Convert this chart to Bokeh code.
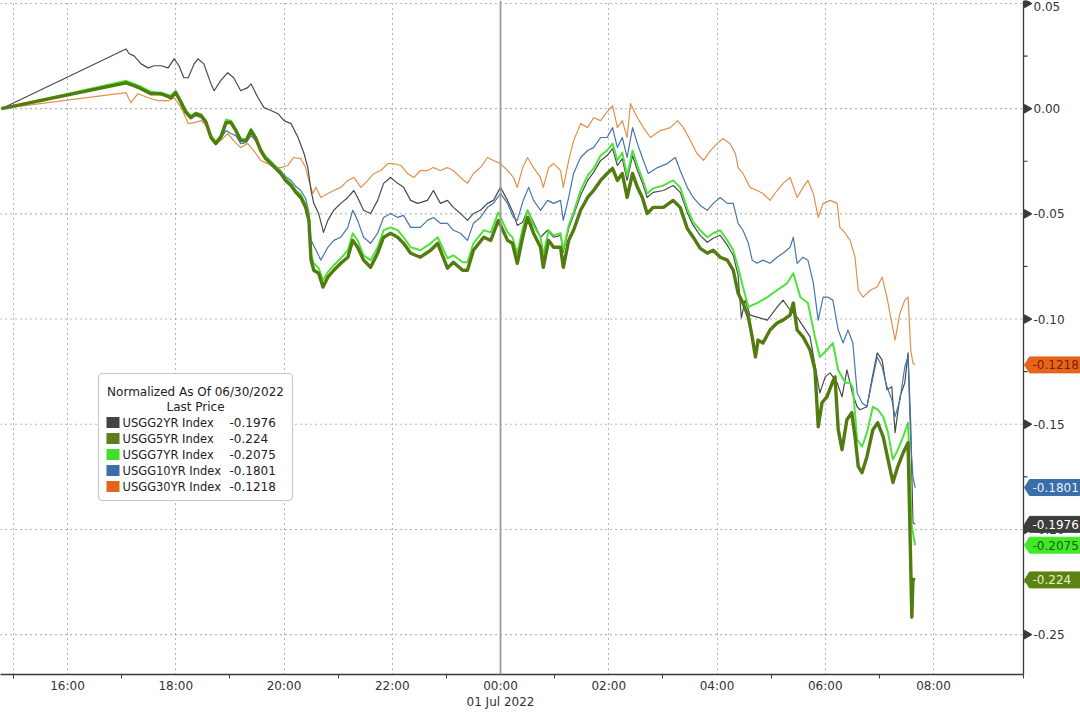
import math
from bokeh.plotting import figure
from bokeh.models import FixedTicker, Span, Label, BoxAnnotation, Range1d
from bokeh.core.properties import value
from bokeh.embed import file_html
from bokeh.resources import INLINE

# ---------------- data (hours since 2022-06-30 00:00, normalized yield change) ----------------
S2 = [(14.78, 0.0), (17.08, 0.0284), (17.14, 0.0261), (17.23, 0.0251), (17.36, 0.0213), (17.49, 0.0194),
      (17.60, 0.0204), (17.73, 0.0204), (17.86, 0.0194), (17.97, 0.0237), (18.06, 0.0204), (18.15, 0.0147),
      (18.23, 0.0147), (18.34, 0.0213), (18.41, 0.0237), (18.52, 0.0213), (18.65, 0.0118), (18.71, 0.0085),
      (18.83, 0.0133), (18.96, 0.0171), (19.07, 0.0147), (19.20, 0.0085), (19.33, 0.0100), (19.39, 0.0118),
      (19.52, 0.0052), (19.63, 0.0005), (19.76, -0.0009), (19.89, -0.0024), (20.00, -0.0057), (20.13, -0.0071),
      (20.26, -0.0137), (20.37, -0.0213), (20.44, -0.0280), (20.50, -0.0389), (20.55, -0.0450), (20.64, -0.0498),
      (20.73, -0.0588), (20.81, -0.0531), (20.92, -0.0483), (21.05, -0.0450), (21.18, -0.0422), (21.29, -0.0389),
      (21.36, -0.0422), (21.47, -0.0483), (21.60, -0.0498), (21.73, -0.0436), (21.84, -0.0355), (21.97, -0.0327),
      (22.10, -0.0355), (22.21, -0.0374), (22.34, -0.0436), (22.47, -0.0450), (22.65, -0.0436), (22.76, -0.0389),
      (22.89, -0.0450), (23.02, -0.0436), (23.13, -0.0469), (23.26, -0.0498), (23.39, -0.0531), (23.50, -0.0498),
      (23.63, -0.0483), (23.76, -0.0450), (23.87, -0.0436), (24.00, -0.0374), (24.13, -0.0436), (24.24, -0.0498),
      (24.31, -0.0555), (24.41, -0.0540), (24.50, -0.0483), (24.61, -0.0540), (24.74, -0.0611), (24.87, -0.0578),
      (24.98, -0.0611), (25.11, -0.0602), (25.16, -0.0682), (25.26, -0.0569), (25.35, -0.0507), (25.48, -0.0412),
      (25.61, -0.0341), (25.72, -0.0303), (25.85, -0.0246), (25.97, -0.0223), (26.07, -0.0190), (26.16, -0.0270),
      (26.25, -0.0237), (26.34, -0.0341), (26.44, -0.0223), (26.53, -0.0294), (26.62, -0.0351), (26.71, -0.0422),
      (26.82, -0.0398), (27.01, -0.0389), (27.19, -0.0365), (27.32, -0.0398), (27.45, -0.0493), (27.56, -0.0555),
      (27.69, -0.0602), (27.82, -0.0635), (27.93, -0.0616), (28.06, -0.0602), (28.19, -0.0649), (28.30, -0.0697),
      (28.39, -0.0791), (28.45, -0.0995), (28.52, -0.0910), (28.61, -0.0981), (28.74, -0.0991), (28.93, -0.1005),
      (29.11, -0.0943), (29.22, -0.0910), (29.35, -0.0957), (29.48, -0.0991), (29.72, -0.1085), (29.90, -0.1351),
      (30.00, -0.1275), (30.09, -0.1256), (30.22, -0.1303), (30.31, -0.1370), (30.40, -0.1242), (30.51, -0.1360),
      (30.59, -0.1417), (30.64, -0.1431), (30.77, -0.1417), (30.86, -0.1289), (30.96, -0.1161), (31.05, -0.1194),
      (31.14, -0.1336), (31.23, -0.1322), (31.29, -0.1540), (31.38, -0.1370), (31.47, -0.1303), (31.53, -0.1161),
      (31.58, -0.1512), (31.62, -0.1967), (31.66, -0.1976)]

S5 = [(14.78, 0.0), (17.08, 0.0123), (17.23, 0.0109), (17.36, 0.0095), (17.54, 0.0071), (17.73, 0.0071),
      (17.91, 0.0052), (18.00, 0.0076), (18.10, 0.0028), (18.19, -0.0019), (18.28, -0.0043), (18.37, -0.0024),
      (18.47, -0.0033), (18.56, -0.0066), (18.65, -0.0137), (18.74, -0.0166), (18.83, -0.0137), (18.93, -0.0066),
      (19.02, -0.0066), (19.11, -0.0104), (19.20, -0.0152), (19.30, -0.0152), (19.39, -0.0104), (19.48, -0.0142),
      (19.57, -0.0199), (19.66, -0.0237), (19.76, -0.0261), (19.85, -0.0284), (19.94, -0.0308), (20.03, -0.0341),
      (20.13, -0.0365), (20.22, -0.0398), (20.31, -0.0422), (20.40, -0.0469), (20.46, -0.0531), (20.50, -0.0720),
      (20.55, -0.0768), (20.64, -0.0782), (20.72, -0.0848), (20.81, -0.0801), (20.92, -0.0768), (21.05, -0.0735),
      (21.18, -0.0706), (21.27, -0.0626), (21.36, -0.0659), (21.47, -0.0720), (21.60, -0.0754), (21.73, -0.0687),
      (21.84, -0.0611), (21.97, -0.0592), (22.10, -0.0611), (22.21, -0.0640), (22.34, -0.0687), (22.52, -0.0706),
      (22.71, -0.0673), (22.84, -0.0640), (23.02, -0.0758), (23.13, -0.0730), (23.30, -0.0768), (23.39, -0.0768),
      (23.50, -0.0673), (23.69, -0.0611), (23.82, -0.0626), (23.96, -0.0531), (24.13, -0.0626), (24.22, -0.0640),
      (24.31, -0.0735), (24.41, -0.0611), (24.50, -0.0517), (24.61, -0.0592), (24.74, -0.0659), (24.79, -0.0754),
      (24.89, -0.0626), (24.98, -0.0659), (25.11, -0.0659), (25.16, -0.0754), (25.26, -0.0626), (25.35, -0.0578),
      (25.48, -0.0483), (25.61, -0.0422), (25.72, -0.0389), (25.85, -0.0341), (25.97, -0.0308), (26.07, -0.0284),
      (26.16, -0.0341), (26.25, -0.0308), (26.34, -0.0422), (26.44, -0.0308), (26.53, -0.0374), (26.62, -0.0422),
      (26.71, -0.0498), (26.82, -0.0469), (27.01, -0.0469), (27.19, -0.0436), (27.32, -0.0469), (27.45, -0.0569),
      (27.56, -0.0611), (27.69, -0.0664), (27.82, -0.0687), (27.93, -0.0673), (28.06, -0.0706), (28.19, -0.0720),
      (28.30, -0.0768), (28.39, -0.0877), (28.48, -0.0924), (28.58, -0.0991), (28.65, -0.1085), (28.71, -0.1180),
      (28.76, -0.1100), (28.85, -0.1114), (28.98, -0.1052), (29.11, -0.1019), (29.22, -0.1005), (29.35, -0.0981),
      (29.41, -0.0924), (29.48, -0.1052), (29.59, -0.1085), (29.72, -0.1147), (29.81, -0.1242), (29.87, -0.1512),
      (29.94, -0.1398), (30.03, -0.1370), (30.13, -0.1303), (30.18, -0.1275), (30.24, -0.1526), (30.31, -0.1621),
      (30.40, -0.1479), (30.49, -0.1445), (30.55, -0.1559), (30.61, -0.1701), (30.68, -0.1730), (30.77, -0.1654),
      (30.88, -0.1526), (30.97, -0.1493), (31.07, -0.1559), (31.16, -0.1668), (31.25, -0.1777), (31.34, -0.1701),
      (31.44, -0.1635), (31.53, -0.1588), (31.60, -0.2417), (31.62, -0.2237), (31.66, -0.2240)]

S7 = [(14.78, 0.0), (17.08, 0.0133), (17.23, 0.0118), (17.36, 0.0104), (17.54, 0.0081), (17.73, 0.0076),
      (17.91, 0.0062), (18.00, 0.0085), (18.10, 0.0038), (18.19, -0.0009), (18.28, -0.0033), (18.37, -0.0019),
      (18.47, -0.0028), (18.56, -0.0057), (18.65, -0.0128), (18.74, -0.0156), (18.83, -0.0128), (18.93, -0.0052),
      (19.02, -0.0057), (19.11, -0.0095), (19.20, -0.0142), (19.30, -0.0147), (19.39, -0.0095), (19.48, -0.0133),
      (19.57, -0.0190), (19.66, -0.0227), (19.76, -0.0251), (19.85, -0.0275), (19.94, -0.0299), (20.03, -0.0332),
      (20.13, -0.0355), (20.22, -0.0389), (20.31, -0.0408), (20.40, -0.0455), (20.46, -0.0507), (20.50, -0.0697),
      (20.55, -0.0735), (20.64, -0.0758), (20.72, -0.0815), (20.81, -0.0777), (20.92, -0.0744), (21.05, -0.0711),
      (21.18, -0.0673), (21.27, -0.0592), (21.36, -0.0626), (21.47, -0.0697), (21.60, -0.0720), (21.73, -0.0659),
      (21.84, -0.0578), (21.97, -0.0564), (22.10, -0.0578), (22.21, -0.0611), (22.34, -0.0659), (22.52, -0.0673),
      (22.71, -0.0640), (22.84, -0.0611), (23.02, -0.0711), (23.13, -0.0697), (23.30, -0.0730), (23.39, -0.0730),
      (23.50, -0.0640), (23.69, -0.0578), (23.82, -0.0588), (23.96, -0.0493), (24.13, -0.0588), (24.22, -0.0611),
      (24.31, -0.0687), (24.41, -0.0569), (24.50, -0.0483), (24.61, -0.0555), (24.74, -0.0611), (24.79, -0.0697),
      (24.89, -0.0578), (24.98, -0.0602), (25.11, -0.0592), (25.16, -0.0673), (25.26, -0.0555), (25.35, -0.0493),
      (25.48, -0.0389), (25.61, -0.0318), (25.72, -0.0284), (25.85, -0.0223), (25.97, -0.0199), (26.07, -0.0166),
      (26.16, -0.0246), (26.25, -0.0209), (26.34, -0.0318), (26.44, -0.0199), (26.53, -0.0270), (26.62, -0.0332),
      (26.71, -0.0403), (26.82, -0.0379), (27.01, -0.0365), (27.19, -0.0341), (27.32, -0.0374), (27.45, -0.0474),
      (27.56, -0.0540), (27.69, -0.0578), (27.82, -0.0611), (27.93, -0.0592), (28.06, -0.0578), (28.19, -0.0626),
      (28.30, -0.0673), (28.39, -0.0754), (28.48, -0.0848), (28.58, -0.0943), (28.65, -0.0934), (28.74, -0.0924),
      (28.93, -0.0896), (29.11, -0.0863), (29.30, -0.0829), (29.41, -0.0782), (29.54, -0.0896), (29.68, -0.0924),
      (29.81, -0.1085), (29.90, -0.1180), (30.03, -0.1147), (30.14, -0.1114), (30.24, -0.1242), (30.37, -0.1303),
      (30.46, -0.1303), (30.51, -0.1327), (30.59, -0.1573), (30.68, -0.1607), (30.77, -0.1540), (30.88, -0.1417),
      (30.97, -0.1431), (31.07, -0.1464), (31.16, -0.1540), (31.25, -0.1668), (31.34, -0.1621), (31.44, -0.1559),
      (31.53, -0.1493), (31.60, -0.1986), (31.66, -0.2075)]

S10 = [(14.78, 0.0), (17.08, 0.0123), (17.36, 0.0095), (17.54, 0.0071), (17.73, 0.0066), (17.91, 0.0047),
       (18.00, 0.0071), (18.10, 0.0024), (18.19, -0.0019), (18.28, -0.0047), (18.37, -0.0033), (18.47, -0.0043),
       (18.56, -0.0071), (18.65, -0.0137), (18.74, -0.0161), (18.83, -0.0142), (18.93, -0.0104), (19.02, -0.0118),
       (19.11, -0.0128), (19.20, -0.0166), (19.30, -0.0161), (19.39, -0.0128), (19.48, -0.0152), (19.57, -0.0199),
       (19.66, -0.0232), (19.76, -0.0256), (19.85, -0.0275), (19.94, -0.0294), (20.03, -0.0322), (20.13, -0.0341),
       (20.22, -0.0370), (20.31, -0.0389), (20.40, -0.0427), (20.46, -0.0493), (20.50, -0.0626), (20.62, -0.0687),
       (20.68, -0.0720), (20.81, -0.0659), (20.92, -0.0626), (21.05, -0.0611), (21.18, -0.0564), (21.27, -0.0483),
       (21.36, -0.0531), (21.47, -0.0611), (21.60, -0.0640), (21.73, -0.0592), (21.84, -0.0517), (21.97, -0.0498),
       (22.10, -0.0517), (22.21, -0.0507), (22.34, -0.0564), (22.52, -0.0564), (22.65, -0.0531), (22.76, -0.0517),
       (22.89, -0.0545), (23.02, -0.0545), (23.13, -0.0578), (23.26, -0.0592), (23.39, -0.0626), (23.50, -0.0545),
       (23.63, -0.0517), (23.76, -0.0469), (23.87, -0.0450), (24.00, -0.0403), (24.13, -0.0450), (24.24, -0.0517),
       (24.31, -0.0531), (24.42, -0.0436), (24.52, -0.0374), (24.61, -0.0436), (24.74, -0.0483), (24.87, -0.0436),
       (24.98, -0.0450), (25.11, -0.0436), (25.16, -0.0531), (25.26, -0.0422), (25.35, -0.0308), (25.48, -0.0232),
       (25.61, -0.0199), (25.72, -0.0185), (25.85, -0.0137), (25.97, -0.0137), (26.07, -0.0090), (26.16, -0.0185),
       (26.25, -0.0137), (26.34, -0.0232), (26.44, -0.0090), (26.53, -0.0166), (26.62, -0.0232), (26.73, -0.0308),
       (26.90, -0.0280), (27.08, -0.0261), (27.23, -0.0232), (27.32, -0.0294), (27.45, -0.0374), (27.56, -0.0422),
       (27.69, -0.0460), (27.82, -0.0483), (27.93, -0.0450), (28.06, -0.0422), (28.19, -0.0450), (28.30, -0.0450),
       (28.39, -0.0545), (28.48, -0.0578), (28.58, -0.0640), (28.65, -0.0720), (28.74, -0.0735), (28.85, -0.0720),
       (28.98, -0.0735), (29.11, -0.0706), (29.22, -0.0687), (29.35, -0.0659), (29.41, -0.0611), (29.48, -0.0735),
       (29.59, -0.0706), (29.68, -0.0720), (29.78, -0.0829), (29.87, -0.1005), (29.96, -0.0896), (30.05, -0.0896),
       (30.14, -0.0910), (30.24, -0.1052), (30.33, -0.1114), (30.42, -0.1052), (30.51, -0.1114), (30.59, -0.1351),
       (30.68, -0.1398), (30.77, -0.1417), (30.86, -0.1303), (30.96, -0.1180), (31.05, -0.1227), (31.14, -0.1322),
       (31.23, -0.1384), (31.29, -0.1464), (31.38, -0.1384), (31.47, -0.1227), (31.53, -0.1180), (31.58, -0.1588),
       (31.62, -0.1749), (31.66, -0.1801)]

S30 = [(14.78, 0.0), (17.08, 0.0076), (17.17, 0.0028), (17.30, 0.0071), (17.49, 0.0052), (17.67, 0.0038),
       (17.86, 0.0038), (17.97, 0.0052), (18.10, 0.0005), (18.23, -0.0071), (18.34, -0.0066), (18.47, -0.0057),
       (18.59, -0.0090), (18.71, -0.0152), (18.83, -0.0152), (18.96, -0.0118), (19.07, -0.0152), (19.20, -0.0185),
       (19.33, -0.0166), (19.44, -0.0199), (19.57, -0.0246), (19.70, -0.0261), (19.81, -0.0280), (19.94, -0.0280),
       (20.07, -0.0270), (20.18, -0.0232), (20.31, -0.0237), (20.40, -0.0280), (20.46, -0.0341), (20.53, -0.0403),
       (20.59, -0.0374), (20.68, -0.0422), (20.81, -0.0403), (20.92, -0.0389), (21.05, -0.0374), (21.18, -0.0341),
       (21.29, -0.0327), (21.42, -0.0374), (21.55, -0.0341), (21.66, -0.0308), (21.79, -0.0294), (21.92, -0.0261),
       (22.03, -0.0261), (22.16, -0.0270), (22.28, -0.0308), (22.40, -0.0327), (22.52, -0.0294), (22.65, -0.0294),
       (22.76, -0.0280), (22.89, -0.0294), (23.02, -0.0280), (23.13, -0.0294), (23.26, -0.0327), (23.39, -0.0355),
       (23.50, -0.0308), (23.63, -0.0280), (23.76, -0.0232), (23.87, -0.0246), (24.00, -0.0261), (24.13, -0.0294),
       (24.24, -0.0327), (24.31, -0.0374), (24.41, -0.0280), (24.50, -0.0232), (24.61, -0.0280), (24.74, -0.0327),
       (24.79, -0.0374), (24.89, -0.0280), (24.98, -0.0261), (25.11, -0.0294), (25.16, -0.0374), (25.26, -0.0246),
       (25.35, -0.0152), (25.48, -0.0071), (25.61, -0.0090), (25.72, -0.0043), (25.85, -0.0057), (25.94, -0.0024),
       (26.07, 0.0014), (26.16, -0.0090), (26.25, -0.0057), (26.34, -0.0137), (26.40, 0.0024), (26.53, -0.0043),
       (26.64, -0.0090), (26.77, -0.0137), (26.95, -0.0104), (27.14, -0.0090), (27.27, -0.0057), (27.38, -0.0090),
       (27.51, -0.0152), (27.63, -0.0213), (27.75, -0.0246), (27.88, -0.0199), (28.00, -0.0166), (28.11, -0.0142),
       (28.24, -0.0166), (28.34, -0.0213), (28.39, -0.0280), (28.48, -0.0308), (28.61, -0.0374), (28.74, -0.0389),
       (28.85, -0.0403), (28.98, -0.0436), (29.11, -0.0389), (29.22, -0.0355), (29.35, -0.0327), (29.48, -0.0422),
       (29.59, -0.0374), (29.68, -0.0341), (29.78, -0.0403), (29.87, -0.0517), (29.96, -0.0450), (30.09, -0.0436),
       (30.22, -0.0450), (30.27, -0.0564), (30.37, -0.0592), (30.46, -0.0626), (30.55, -0.0706), (30.61, -0.0863),
       (30.70, -0.0896), (30.83, -0.0863), (30.96, -0.0848), (31.05, -0.0801), (31.14, -0.0896), (31.23, -0.1019),
       (31.29, -0.1100), (31.38, -0.0972), (31.47, -0.0910), (31.53, -0.0896), (31.58, -0.1147), (31.62, -0.1209),
       (31.66, -0.1218)]

NAMES = ["USGG2YR Index", "USGG5YR Index", "USGG7YR Index", "USGG10YR Index", "USGG30YR Index"]
LAST = [-0.1976, -0.224, -0.2075, -0.1801, -0.1218]
LEGEND_TITLE = ["Normalized As Of 06/30/2022", "Last Price"]

X_MAJOR = [16, 18, 20, 22, 24, 26, 28, 30, 32]
X_MINOR = [15, 17, 19, 21, 23, 25, 27, 29, 31]
X_LABELS = {16: "16:00", 18: "18:00", 20: "20:00", 22: "22:00", 24: "00:00\n01 Jul 2022",
            26: "02:00", 28: "04:00", 30: "06:00", 32: "08:00"}
X_GRID = [15, 16, 18, 20, 22, 26, 28, 30, 32]
Y_MAJOR = [0.05, 0.0, -0.05, -0.1, -0.15, -0.2, -0.25]
Y_MINOR = [0.025, -0.025, -0.075, -0.125, -0.175, -0.225]

# ---------------- layout / styling ----------------
FONT = "DejaVu Sans"
LINE_COLORS = ["#4a4a4a", "#527c10", "#50e23c", "#4676aa", "#e2914c"]
LINE_WIDTHS = [1.2, 3.4, 2.0, 1.2, 1.2]
SWATCH = ["#444444", "#5e7d1d", "#3fe02a", "#3a6fa8", "#e0661c"]
TAG_FILL = ["#3d3d3d", "#5b8212", "#44e82a", "#3a6ea8", "#e5661b"]
TAG_TEXT = ["#ffffff", "#e4f3c8", "#17600c", "#e8f0f8", "#7a1d00"]

W, H = 1080, 712
FH = 676                      # frame height (bottom axis line)
PX_PER_H = 54.125             # horizontal scale
X_START = 16 - 67 / PX_PER_H
X_END = 32 + (W - 933) / PX_PER_H
AX = 32 + (1023 - 933) / PX_PER_H   # position of the right value axis
Y_TOP, Y_BOT = 0.05142, -0.26896
PX_PER_Y = FH / (Y_TOP - Y_BOT)
INK = "#333333"

p = figure(width=W, height=H, output_backend="svg", toolbar_location=None,
           x_range=Range1d(X_START, X_END), y_range=Range1d(Y_BOT, Y_TOP),
           min_border_left=0, min_border_top=0, min_border_right=0, min_border_bottom=H - FH,
           background_fill_color="white", border_fill_color="white")
p.outline_line_color = None
p.yaxis.visible = False
p.ygrid.visible = False

# bottom time axis
xa = p.xaxis[0]
xa.ticker = FixedTicker(ticks=X_MAJOR, minor_ticks=X_MINOR + [AX])
xa.bounds = (X_START, AX)
xa.major_label_overrides = X_LABELS
xa.major_tick_out = 0
xa.major_tick_in = 0
xa.minor_tick_out = 4
xa.minor_tick_in = 0
xa.axis_line_color = "#3a3a3a"
xa.axis_line_width = 1.3
xa.minor_tick_line_color = "#3a3a3a"
xa.major_label_text_font = FONT
xa.major_label_text_font_size = "12px"
xa.major_label_text_color = INK
xa.major_label_standoff = 0

# vertical dotted grid + day separator
p.xgrid.ticker = FixedTicker(ticks=X_GRID)
p.xgrid.grid_line_color = "#6f6f6f"
p.xgrid.grid_line_dash = "1 4"
p.xgrid.grid_line_width = 1.1
p.add_layout(Span(location=24, dimension="height", line_color="#9c9c9c", line_width=1.8))

# horizontal dotted grid, ending at the value axis
p.segment(x0=[X_START] * len(Y_MAJOR), x1=[AX] * len(Y_MAJOR), y0=Y_MAJOR, y1=Y_MAJOR,
          line_color="#6f6f6f", line_dash="1 4", line_width=1.1)

# series lines (drawing order: 30Y, 2Y, 10Y, 7Y, 5Y)
SERIES = [S2, S5, S7, S10, S30]
for i in [4, 0, 3, 2, 1]:
    xs = [t for t, v in SERIES[i]]
    ys = [v for t, v in SERIES[i]]
    p.line(xs, ys, line_color=LINE_COLORS[i], line_width=LINE_WIDTHS[i], line_join="round")

# right value axis: line, pointer triangles, minor ticks, labels
p.add_layout(Span(location=AX, dimension="height", line_color="#3a3a3a", line_width=1.3))
p.scatter(x=[AX + 3.5 / PX_PER_H] * len(Y_MAJOR), y=Y_MAJOR, marker="triangle", size=8.5,
          angle=-math.pi / 2, fill_color="#3a3a3a", line_color="#3a3a3a")
p.ray(x=[AX] * len(Y_MINOR), y=Y_MINOR, length=4, length_units="screen", angle=0,
      line_color="#3a3a3a", line_width=1.2)
p.text(x=[AX] * (len(Y_MAJOR) - 1), y=Y_MAJOR[1:], text=[f"{v:.2f}" for v in Y_MAJOR[1:]], x_offset=10,
       text_font=value(FONT), text_font_size="12px", text_color=INK,
       text_align="left", text_baseline="middle")
p.text(x=[AX], y=Y_MAJOR[:1], text=[f"{v:.2f}" for v in Y_MAJOR[:1]], x_offset=10, y_offset=3,
       text_font=value(FONT), text_font_size="12px", text_color=INK,
       text_align="left", text_baseline="middle")

# last-value tags (pentagon pointing at the axis) with the value written inside
TAG_PTS = [(1, 0), (6, 8), (70, 8), (70, -8), (6, -8)]   # pixel offsets from the axis point
tag_xs, tag_ys = [], []
for v in LAST:
    tag_xs.append([AX + dx / PX_PER_H for dx, dy in TAG_PTS])
    tag_ys.append([v + dy / PX_PER_Y for dx, dy in TAG_PTS])
p.patches(tag_xs, tag_ys, fill_color=TAG_FILL, line_color=TAG_FILL, line_width=1)
p.text(x=[AX] * 5, y=LAST, text=[f"{v}" for v in LAST], x_offset=9, text_color=TAG_TEXT,
       text_font=value(FONT), text_font_size="12px", text_align="left", text_baseline="middle")

# legend box (screen coordinates relative to the plot frame, y measured up from its bottom)
p.add_layout(BoxAnnotation(left=98, right=292, bottom=FH - 502, top=FH - 375,
                           left_units="screen", right_units="screen", top_units="screen", bottom_units="screen",
                           fill_color="white", fill_alpha=1.0, line_color="#4a4a4a", line_width=1.2,
                           border_radius=4))
p.add_layout(Label(x=195, y=FH - 393, x_units="screen", y_units="screen", text=LEGEND_TITLE[0],
                   text_font=FONT, text_font_size="12px", text_color="#222222",
                   text_align="center", text_baseline="middle"))
p.add_layout(Label(x=195, y=FH - 408, x_units="screen", y_units="screen", text=LEGEND_TITLE[1],
                   text_font=FONT, text_font_size="12px", text_color="#222222",
                   text_align="center", text_baseline="middle"))
for i in range(5):
    yc = FH - (424 + 16 * i)
    p.add_layout(BoxAnnotation(left=106, right=119, bottom=yc - 5.5, top=yc + 5.5,
                               left_units="screen", right_units="screen", top_units="screen",
                               bottom_units="screen", fill_color=SWATCH[i], fill_alpha=1.0, line_color=None))
    p.add_layout(Label(x=122, y=yc, x_units="screen", y_units="screen", text=NAMES[i],
                       text_font=FONT, text_font_size="11.5px", text_color="#222222",
                       text_align="left", text_baseline="middle"))
    p.add_layout(Label(x=229, y=yc, x_units="screen", y_units="screen", text=f"{LAST[i]}",
                       text_font=FONT, text_font_size="12px", text_color="#222222",
                       text_align="left", text_baseline="middle"))

open("out.html", "w").write(file_html(p, INLINE))
